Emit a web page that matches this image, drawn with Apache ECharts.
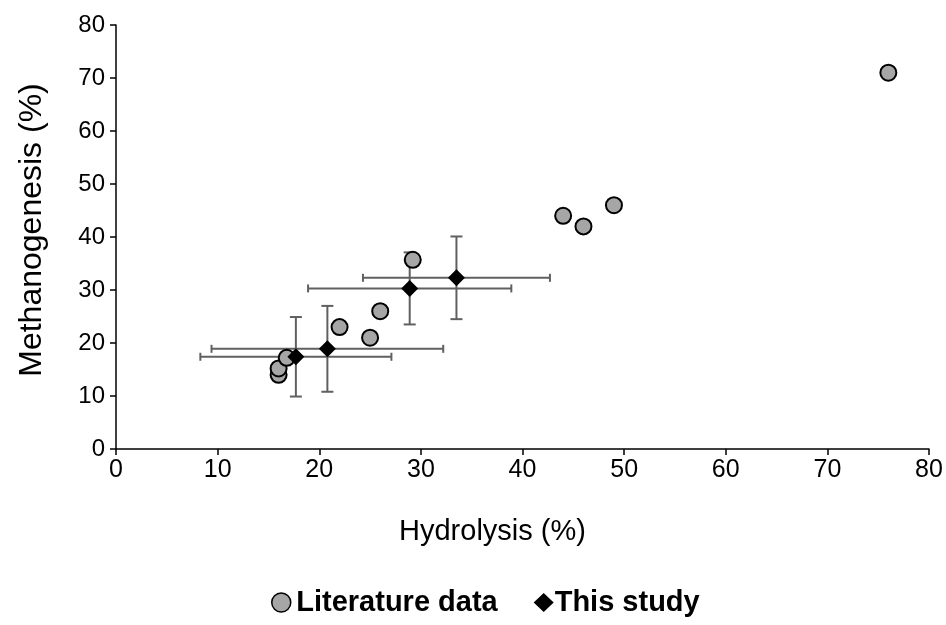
<!DOCTYPE html>
<html>
<head>
<meta charset="utf-8">
<script src="https://cdn.jsdelivr.net/npm/echarts@6/dist/echarts.min.js"></script>
<style>html,body{margin:0;padding:0;background:#fff}#c{width:946px;height:625px}</style>
</head>
<body>
<div id="c"></div>
<script>
// Literature data
const litX = [16, 16, 16.8, 22, 25, 26, 29.2, 44, 46, 49, 76];
const litY = [14, 15.2, 17.2, 23, 21, 26, 35.7, 44, 42, 46, 71];
// This study
const studyX = [17.7, 20.8, 28.9, 33.5];
const studyY = [17.4, 18.9, 30.3, 32.3];
const studyXErr = [9.4, 11.4, 10.0, 9.2];
const studyYErr = [7.5, 8.1, 6.8, 7.8];
const xTicks = [0, 10, 20, 30, 40, 50, 60, 70, 80];
const yTicks = [0, 10, 20, 30, 40, 50, 60, 70, 80];

const font = '"Liberation Sans", Arial, sans-serif';
const chart = echarts.init(document.getElementById('c'));

const errData = studyX.map((x, i) => [x, studyY[i], studyXErr[i], studyYErr[i]]);

chart.setOption({
  animation: false,
  backgroundColor: '#fff',
  grid: { left: 116, right: 17, top: 25, bottom: 176 },
  xAxis: {
    type: 'value', min: xTicks[0], max: xTicks[xTicks.length - 1], interval: 10,
    name: 'Hydrolysis (%)', nameLocation: 'middle', nameGap: 68,
    nameTextStyle: { fontFamily: font, fontSize: 29, color: '#000', padding: [0, 60, 0, 0] },
    axisLine: { show: true, onZero: false, lineStyle: { color: '#000', width: 1.5 } },
    axisTick: { show: true, inside: false, length: 6, lineStyle: { color: '#000', width: 1.5 } },
    axisLabel: { fontFamily: font, fontSize: 25, color: '#000', margin: 9 },
    splitLine: { show: false }
  },
  yAxis: {
    type: 'value', min: yTicks[0], max: yTicks[yTicks.length - 1], interval: 10,
    name: 'Methanogenesis (%)', nameLocation: 'middle', nameGap: 68, nameRotate: 90,
    nameTextStyle: { fontFamily: font, fontSize: 32, color: '#000', padding: [0, 0, 0, 14] },
    axisLine: { show: true, onZero: false, lineStyle: { color: '#000', width: 1.5 } },
    axisTick: { show: true, inside: false, length: 6, lineStyle: { color: '#000', width: 1.5 } },
    axisLabel: { fontFamily: font, fontSize: 24, color: '#000', margin: 11 },
    splitLine: { show: false }
  },
  legend: {
    bottom: 8, left: 271, padding: 0, itemGap: 36, itemWidth: 20, itemHeight: 19,
    textStyle: { fontFamily: font, fontSize: 29, fontWeight: 'bold', color: '#000' },
    data: [
      { name: 'Literature data', icon: 'circle', itemStyle: { borderWidth: 1.5 } },
      { name: 'This study', icon: 'diamond', textStyle: { padding: [0, 0, 0, -4] } }
    ]
  },
  series: [
    {
      name: 'errorbars', type: 'custom', z: 1, silent: true,
      data: errData,
      renderItem: function (params, api) {
        const x = api.value(0), y = api.value(1), ex = api.value(2), ey = api.value(3);
        const l = api.coord([x - ex, y]), r = api.coord([x + ex, y]);
        const t = api.coord([x, y + ey]), b = api.coord([x, y - ey]);
        const st = { stroke: '#606060', lineWidth: 2 };
        const hc = 4, vc = 6;
        return {
          type: 'group',
          children: [
            { type: 'line', shape: { x1: l[0], y1: l[1], x2: r[0], y2: r[1] }, style: st },
            { type: 'line', shape: { x1: l[0], y1: l[1] - hc, x2: l[0], y2: l[1] + hc }, style: st },
            { type: 'line', shape: { x1: r[0], y1: r[1] - hc, x2: r[0], y2: r[1] + hc }, style: st },
            { type: 'line', shape: { x1: t[0], y1: t[1], x2: b[0], y2: b[1] }, style: st },
            { type: 'line', shape: { x1: t[0] - vc, y1: t[1], x2: t[0] + vc, y2: t[1] }, style: st },
            { type: 'line', shape: { x1: b[0] - vc, y1: b[1], x2: b[0] + vc, y2: b[1] }, style: st }
          ]
        };
      }
    },
    {
      name: 'Literature data', type: 'scatter', z: 3, symbol: 'circle', symbolSize: 16,
      itemStyle: { color: '#a6a6a6', borderColor: '#000', borderWidth: 2, opacity: 1 },
      data: litX.map((x, i) => [x, litY[i]])
    },
    {
      name: 'This study', type: 'scatter', z: 4, symbol: 'diamond', symbolSize: 17,
      itemStyle: { color: '#000', opacity: 1 },
      data: studyX.map((x, i) => [x, studyY[i]])
    }
  ]
});
</script>
</body>
</html>
